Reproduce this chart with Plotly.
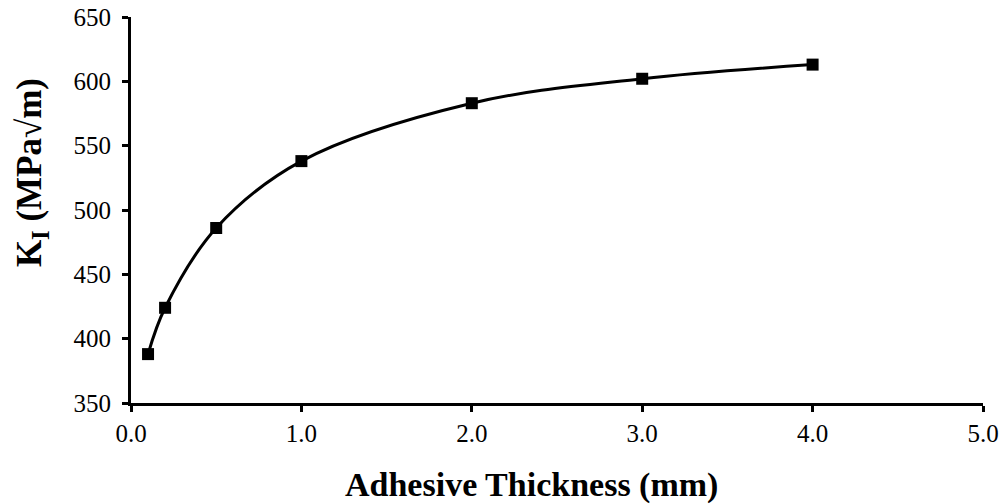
import plotly.graph_objects as go

thickness = [0.1, 0.2, 0.5, 1.0, 2.0, 3.0, 4.0]
k_i = [388, 424, 486, 538, 583, 602, 613]

x_ticks = [0, 1, 2, 3, 4, 5]
x_tick_labels = ["0.0", "1.0", "2.0", "3.0", "4.0", "5.0"]
y_ticks = [350, 400, 450, 500, 550, 600, 650]

x_title = "<b>Adhesive Thickness (mm)</b>"
y_title = "<b>K<sub>I</sub> (MPa√m)</b>"

fig = go.Figure()
fig.add_trace(go.Scatter(
    x=thickness, y=k_i, mode="lines+markers",
    line=dict(color="black", width=3, shape="spline", smoothing=1.0),
    marker=dict(symbol="square", size=12, color="black"),
    showlegend=False, cliponaxis=False, hoverinfo="skip",
))

font_family = "Liberation Serif, Times New Roman, serif"
fig.update_layout(
    width=1007, height=504,
    margin=dict(l=131, r=24, t=17, b=101),
    paper_bgcolor="white", plot_bgcolor="white",
    font=dict(family=font_family, color="black", size=25),
)
fig.update_xaxes(
    range=[0, 5], tickvals=x_ticks, ticktext=x_tick_labels,
    showgrid=False, zeroline=False, automargin=False,
    showline=True, linecolor="black", linewidth=3,
    ticks="outside", ticklen=6, tickwidth=2.5, tickcolor="black",
    tickfont=dict(size=25, family=font_family),
)
fig.update_yaxes(
    range=[350, 650], tickvals=y_ticks,
    showgrid=False, zeroline=False, automargin=False,
    showline=True, linecolor="black", linewidth=3,
    ticks="outside", ticklen=6, tickwidth=2.5, tickcolor="black",
    tickfont=dict(size=25, family=font_family), ticklabelstandoff=6,
)
fig.add_annotation(
    text=x_title, xref="paper", yref="paper", x=0.4695, y=-0.2124,
    xanchor="center", yanchor="middle", showarrow=False,
    font=dict(size=34, family=font_family, color="black"),
)
fig.add_annotation(
    text=y_title, xref="paper", yref="paper", x=-0.116, y=0.596,
    xanchor="center", yanchor="middle", showarrow=False, textangle=-90,
    font=dict(size=35, family=font_family, color="black"),
)

fig.write_html("out.html", config={"displayModeBar": False},
               post_script="document.body.style.margin='0';")
